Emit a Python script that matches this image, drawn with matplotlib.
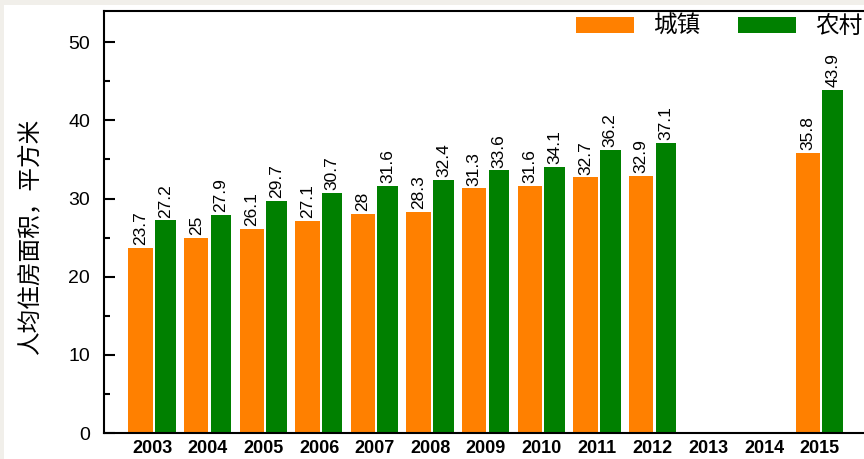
import numpy as np
import matplotlib
matplotlib.use("Agg")
import matplotlib.pyplot as plt
from matplotlib.patches import Rectangle
from matplotlib.ticker import MultipleLocator

plt.rcParams['font.family'] = ['Liberation Sans', 'Noto Sans CJK SC', 'DejaVu Sans']

years = ['2003', '2004', '2005', '2006', '2007', '2008', '2009',
         '2010', '2011', '2012', '2013', '2014', '2015']
urban = [23.7, 25, 26.1, 27.1, 28, 28.3, 31.3, 31.6, 32.7, 32.9, np.nan, np.nan, 35.8]
rural = [27.2, 27.9, 29.7, 30.7, 31.6, 32.4, 33.6, 34.1, 36.2, 37.1, np.nan, np.nan, 43.9]
series_names = ['城镇', '农村']
ylabel = '人均住房面积，平方米'

orange = '#FF8000'
green = '#008000'

W, H = 864, 459
fig = plt.figure(figsize=(W / 100, H / 100), dpi=100)
fig.patch.set_facecolor('white')

# light grey border strips
fig.patches.append(Rectangle((0, 1 - 5 / H), 1, 5 / H, transform=fig.transFigure,
                             facecolor='#f1efea', edgecolor='none', zorder=0))
fig.patches.append(Rectangle((0, 0), 4 / W, 1, transform=fig.transFigure,
                             facecolor='#f1efea', edgecolor='none', zorder=0))

left_px, right_px, top_px, bot_px = 104, 873, 11, 433
ax = fig.add_axes([left_px / W, 1 - bot_px / H, (right_px - left_px) / W, (bot_px - top_px) / H])

x = np.arange(len(years))
b1 = ax.bar(x - 0.21, urban, width=0.44, color=orange, linewidth=0, label=series_names[0])
b2 = ax.bar(x + 0.235, rural, width=0.37, color=green, linewidth=0, label=series_names[1])

def fmt(v):
    return '' if np.isnan(v) else f'{v:g}'

ax.bar_label(b1, labels=[fmt(v) for v in urban], rotation=90, padding=2, fontsize=12.5)
ax.bar_label(b2, labels=[fmt(v) for v in rural], rotation=90, padding=2, fontsize=12.5)

ax.set_xlim(-0.867, 12.96)
ax.set_ylim(0, 54)
ax.set_xticks(x)
ax.set_xticklabels(years, fontweight='bold', fontsize=13)
ax.tick_params(axis='x', length=0, pad=5)
ax.yaxis.set_major_locator(MultipleLocator(10))
ax.yaxis.set_minor_locator(MultipleLocator(5))
ax.tick_params(axis='y', which='major', direction='in', length=8, width=1.5, labelsize=14, pad=10)
ax.tick_params(axis='y', which='minor', direction='in', length=4, width=1.5)

for s in ax.spines.values():
    s.set_linewidth(1.5)

ax.set_ylabel(ylabel, fontsize=17, family=['Noto Sans CJK SC', 'DejaVu Sans'])
ax.yaxis.label.set_va('center')
ax.yaxis.set_label_coords((30 - left_px) / (right_px - left_px), (bot_px - 236) / (bot_px - top_px))

leg = fig.legend(handles=[b1, b2], labels=series_names, loc='upper right',
                 bbox_to_anchor=(862 / W, 1 - 15 / H), ncol=2, frameon=False,
                 prop={'family': ['Noto Sans CJK SC', 'DejaVu Sans'], 'size': 17},
                 handlelength=2.46, handleheight=0.68, handletextpad=0.8,
                 columnspacing=1.6, borderpad=0, borderaxespad=0)

fig.savefig('out.png', dpi=100, facecolor=fig.get_facecolor())
